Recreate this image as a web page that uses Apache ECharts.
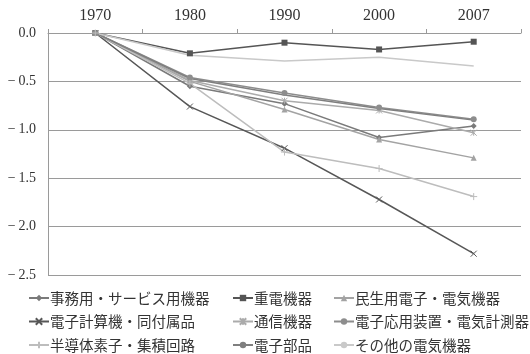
<!DOCTYPE html>
<html>
<head>
<meta charset="utf-8">
<script src="https://cdn.jsdelivr.net/npm/echarts@6/dist/echarts.min.js"></script>
<style>
  html, body { margin: 0; padding: 0; background: #fff; }
  #chart { width: 530px; height: 354px; }
</style>
</head>
<body>
<div id="chart"></div>
<script>
// Years on the category axis
const years = ['1970', '1980', '1990', '2000', '2007'];

// One array per industry (log change relative to 1970)
const officeEquip   = [0, -0.55, -0.73, -1.08, -0.96];  // 事務用・サービス用機器
const heavyElec     = [0, -0.21, -0.10, -0.17, -0.09];  // 重電機器
const consumerElec  = [0, -0.50, -0.79, -1.10, -1.29];  // 民生用電子・電気機器
const computers     = [0, -0.76, -1.19, -1.72, -2.28];  // 電子計算機・同付属品
const telecom       = [0, -0.49, -0.70, -0.80, -1.03];  // 通信機器
const appliedElec   = [0, -0.46, -0.62, -0.77, -0.89];  // 電子応用装置・電気計測器
const semiconductor = [0, -0.52, -1.23, -1.40, -1.69];  // 半導体素子・集積回路
const components    = [0, -0.47, -0.64, -0.78, -0.90];  // 電子部品
const otherElec     = [0, -0.23, -0.29, -0.25, -0.34];  // その他の電気機器

const names = [
  '事務用・サービス用機器', '重電機器', '民生用電子・電気機器',
  '電子計算機・同付属品', '通信機器', '電子応用装置・電気計測器',
  '半導体素子・集積回路', '電子部品', 'その他の電気機器'
];

const SYM_X    = 'path://M0,0L10,10M10,0L0,10';
const SYM_PLUS = 'path://M5,0L5,10M0,5L10,5';
const SYM_STAR = 'path://M0,0L10,10M10,0L0,10M5,0L5,10';

const seriesDefs = [
  { data: officeEquip,   color: '#7a7a7a', symbol: 'diamond',  size: 6, stroke: false },
  { data: heavyElec,     color: '#555555', symbol: 'rect',     size: 6, stroke: false },
  { data: consumerElec,  color: '#a3a3a3', symbol: 'triangle', size: 6, stroke: false },
  { data: computers,     color: '#575757', symbol: SYM_X,      size: 6, stroke: true  },
  { data: telecom,       color: '#ababab', symbol: SYM_STAR,   size: 6, stroke: true  },
  { data: appliedElec,   color: '#8d8d8d', symbol: 'circle',   size: 6, stroke: false },
  { data: semiconductor, color: '#bdbdbd', symbol: SYM_PLUS,   size: 7, stroke: true  },
  { data: components,    color: '#7f7f7f', symbol: 'none',     size: 0, stroke: false },
  { data: otherElec,     color: '#c9c9c9', symbol: 'none',     size: 0, stroke: false }
];

const FONT = "'Liberation Serif', 'Noto Sans CJK JP', serif";
const LEGEND_FONT = "'Noto Sans CJK JP', sans-serif";

const series = seriesDefs.map((d, i) => ({
  name: names[i],
  type: 'line',
  data: d.data,
  symbol: d.symbol,
  symbolSize: d.size,
  showSymbol: d.symbol !== 'none',
  lineStyle: { color: d.color, width: 1.5 },
  itemStyle: d.stroke
    ? { color: d.color, borderColor: d.color, borderWidth: 1 }
    : { color: d.color },
  emphasis: { disabled: true },
  animation: false
}));

function legendCol(left, items) {
  return {
    orient: 'vertical',
    left: left,
    top: 290,
    padding: 0,
    itemGap: 7.5,
    itemWidth: 20,
    itemHeight: 8,
    data: items,
    textStyle: {
      fontFamily: LEGEND_FONT, fontSize: 14.5, lineHeight: 16, color: '#333',
      padding: [0, 0, 0, -4]
    },
    selectedMode: false
  };
}

const option = {
  backgroundColor: '#fff',
  animation: false,
  grid: { left: 48, right: 9, top: 33, bottom: 79, containLabel: false },
  legend: [
    legendCol(28, [names[0], names[3], names[6]]),
    legendCol(232, [names[1], names[4], names[7]]),
    legendCol(333, [names[2], names[5], names[8]])
  ],
  xAxis: {
    type: 'category',
    position: 'top',
    data: years,
    boundaryGap: true,
    axisLine: { lineStyle: { color: '#9a9a9a', width: 1 } },
    axisTick: { show: true, length: 4, lineStyle: { color: '#9a9a9a' } },
    axisLabel: { fontFamily: FONT, fontSize: 16, color: '#333', margin: 9 },
    splitLine: { show: false }
  },
  yAxis: {
    type: 'value',
    min: -2.5,
    max: 0,
    interval: 0.5,
    axisLine: { show: true, lineStyle: { color: '#9a9a9a', width: 1 } },
    axisTick: { show: false },
    axisLabel: {
      fontFamily: FONT, fontSize: 14, color: '#333', margin: 12,
      formatter: v => (v === 0 ? '0.0' : '\u2212\u2009' + Math.abs(v).toFixed(1))
    },
    splitLine: { show: true, lineStyle: { color: '#9a9a9a', width: 1 } }
  },
  series: series
};

const chart = echarts.init(document.getElementById('chart'), null, { renderer: 'canvas' });
chart.setOption(option);
</script>
</body>
</html>
